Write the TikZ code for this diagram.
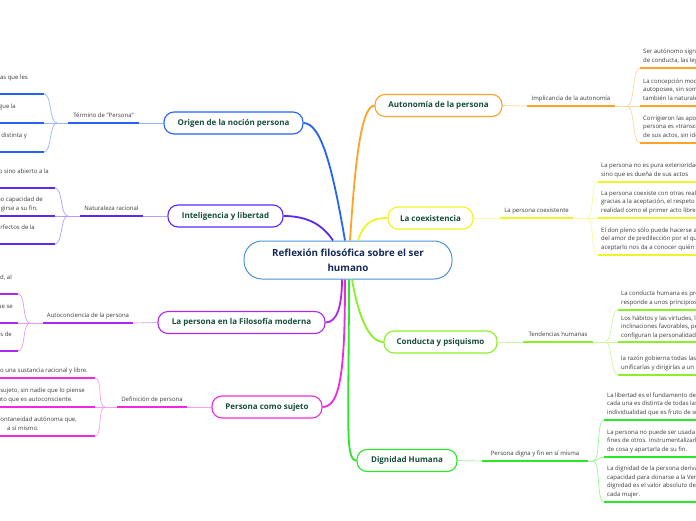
\documentclass[tikz,border=0pt]{standalone}
\usepackage{fontspec}
\setmainfont{Open Sans}

\definecolor{rootcol}{RGB}{74,146,222}
\definecolor{roottext}{RGB}{22,42,88}
\definecolor{topictext}{RGB}{22,78,58}
\definecolor{leaftext}{RGB}{60,60,60}
\definecolor{cOrigen}{RGB}{38,98,245}
\definecolor{cIntel}{RGB}{92,40,245}
\definecolor{cModerna}{RGB}{172,40,240}
\definecolor{cSujeto}{RGB}{242,40,222}
\definecolor{cAuto}{RGB}{255,162,40}
\definecolor{cCoex}{RGB}{242,242,40}
\definecolor{cConducta}{RGB}{140,240,40}
\definecolor{cDignidad}{RGB}{40,232,40}

\tikzstyle{root} = [draw=rootcol, line width=1pt, fill=white, rounded corners=18pt, minimum width=208pt, minimum height=38pt, align=center, text=roottext, font=\fontsize{9.8}{15}\selectfont\bfseries]
\tikzstyle{topic} = [line width=1.1pt, fill=white, rounded corners=10pt, minimum height=22pt, inner sep=0pt, text=topictext, font=\fontsize{8}{9}\selectfont\bfseries]
\tikzstyle{sub} = [anchor=south, inner xsep=0pt, inner ysep=5.5pt, text depth=0pt, text=leaftext, font=\fontsize{6}{8.4}\selectfont]
\tikzstyle{leaf} = [anchor=base west, inner sep=0pt, align=left, text=leaftext, font=\fontsize{6}{8.4}\selectfont]
\tikzstyle{cut} = [anchor=base east, inner sep=0pt, text=leaftext, font=\fontsize{6}{8.4}\selectfont]
\tikzstyle{trunk} = [line width=1.8pt]
\tikzstyle{twig} = [line width=0.7pt]
\tikzstyle{ul} = [line width=1.6pt]

\begin{document}
\begin{tikzpicture}[x=1pt, y=-1pt]
\useasboundingbox (0,0) rectangle (696,520);
\clip (0,0) rectangle (696,520);
\fill[white] (0,0) rectangle (696,520);

%raiz
\node[root] (root) at (348,260) {Reflexión filosófica sobre el ser\\humano};

%begin temas
\node[topic, draw=cOrigen, minimum width=139pt] (origen) at (233.5,123) {Origen de la noción persona};
\node[topic, draw=cIntel, minimum width=115pt] (intel) at (225.5,216) {Inteligencia y libertad};
\node[topic, draw=cModerna, minimum width=167pt] (moderna) at (241.5,322.5) {La persona en la Filosofía moderna};
\node[topic, draw=cSujeto, minimum width=110pt] (sujeto) at (267,407) {Persona como sujeto};
\node[topic, draw=cAuto, minimum width=127pt] (autonomia) at (438.5,105.5) {Autonomía de la persona};
\node[topic, draw=cCoex, minimum width=85pt] (coex) at (430.5,218) {La coexistencia};
\node[topic, draw=cConducta, minimum width=113pt] (conducta) at (440.5,342) {Conducta y psiquismo};
\node[topic, draw=cDignidad, minimum width=100pt] (dignidad) at (407,460.5) {Dignidad Humana};
%end temas

%begin ramas
\draw[trunk, cOrigen] ([xshift=-3pt]root.north) .. controls +(-12,-70) and +(18,0) .. (origen.east);
\draw[trunk, cIntel] ([xshift=-15pt]root.north) .. controls +(-10,-15) and +(25,0) .. (intel.east);
\draw[trunk, cAuto] ([xshift=2pt]root.north) .. controls +(4,-60) and +(-15,0) .. (autonomia.west);
\draw[trunk, cCoex] ([xshift=10pt]root.north) .. controls +(5,-15) and +(-18,0) .. (coex.west);
\draw[trunk, cModerna] ([xshift=-6pt]root.south) .. controls +(0,25) and +(12,0) .. (moderna.east);
\draw[trunk, cSujeto] ([xshift=-3pt]root.south) .. controls +(0,90) and +(18,0) .. (sujeto.east);
\draw[trunk, cDignidad] ([xshift=1pt]root.south) .. controls +(0,140) and +(-12,0) .. (dignidad.west);
\draw[trunk, cConducta] ([xshift=4pt]root.south) .. controls +(6,35) and +(-15,0) .. (conducta.west);
%end ramas

%begin origen
\node[sub, minimum width=71pt] (termino) at (103.5,123) {Término de "Persona"};
\coordinate (ob) at (57,123);
\coordinate (o1) at (44,94);
\coordinate (o2) at (44,123);
\coordinate (o3) at (44,152);
\draw[twig, cOrigen!45] (origen.west) -- (termino.south east);
\draw[ul, cOrigen] (termino.south east) -- (termino.south west);
\draw[twig, cOrigen!45] (termino.south west) -- (ob);
\draw[twig, cOrigen!45] (ob) .. controls +(-8,0) and +(8,0) .. (o1);
\draw[twig, cOrigen!45] (ob) -- (o2);
\draw[twig, cOrigen!45] (ob) .. controls +(-8,0) and +(8,0) .. (o3);
\draw[ul, cOrigen] (o1) -- +(-50,0);
\draw[ul, cOrigen] (o2) -- +(-50,0);
\draw[ul, cOrigen] (o3) -- +(-50,0);
\node[cut] (o1a) at (28,79.6) {as que les};
\node[cut] (o2a) at (16,108.6) {gue la};
\node[cut] (o3a) at (27,137.6) {distinta y};
%end origen

%begin inteligencia
\node[sub, minimum width=63pt] (natural) at (111.5,216) {Naturaleza racional};
\coordinate (nb) at (68,216);
\coordinate (n1) at (55,188);
\coordinate (n2) at (55,216);
\coordinate (n3) at (55,244);
\draw[twig, cIntel!45] (intel.west) -- (natural.south east);
\draw[ul, cIntel] (natural.south east) -- (natural.south west);
\draw[twig, cIntel!45] (natural.south west) -- (nb);
\draw[twig, cIntel!45] (nb) .. controls +(-8,0) and +(8,0) .. (n1);
\draw[twig, cIntel!45] (nb) -- (n2);
\draw[twig, cIntel!45] (nb) .. controls +(-8,0) and +(8,0) .. (n3);
\draw[ul, cIntel] (n1) -- +(-60,0);
\draw[ul, cIntel] (n2) -- +(-60,0);
\draw[ul, cIntel] (n3) -- +(-60,0);
\node[cut] (n1a) at (49,173.6) {o sino abierto a la};
\node[cut] (n2a) at (43,201.6) {no capacidad de};
\node[cut] (n2b) at (38,210) {girse a su fin.};
\node[cut] (n3a) at (35,229.6) {rfectos de la};
%end inteligencia

%begin moderna
\node[sub, minimum width=90pt] (autocon) at (88,323) {Autoconciencia de la persona};
\coordinate (mb) at (30,323);
\coordinate (m1) at (18,294);
\coordinate (m2) at (18,323);
\coordinate (m3) at (18,351);
\draw[twig, cModerna!45] (moderna.west) -- (autocon.south east);
\draw[ul, cModerna] (autocon.south east) -- (autocon.south west);
\draw[twig, cModerna!45] (autocon.south west) -- (mb);
\draw[twig, cModerna!45] (mb) .. controls +(-8,0) and +(8,0) .. (m1);
\draw[twig, cModerna!45] (mb) -- (m2);
\draw[twig, cModerna!45] (mb) .. controls +(-8,0) and +(8,0) .. (m3);
\draw[ul, cModerna] (m1) -- +(-30,0);
\draw[ul, cModerna] (m2) -- +(-30,0);
\draw[ul, cModerna] (m3) -- +(-30,0);
\node[cut] (m1a) at (12,279.6) {d, al};
\node[cut] (m2a) at (13,308.6) {ue se};
\node[cut] (m3a) at (12,336.6) {s de};
%end moderna

%begin sujeto
\node[sub, minimum width=70pt] (defin) at (152,407) {Definición de persona};
\coordinate (sb) at (105,407);
\coordinate (s1) at (95,378);
\coordinate (s2) at (95,407);
\coordinate (s3) at (95,436);
\draw[twig, cSujeto!45] (sujeto.west) -- (defin.south east);
\draw[ul, cSujeto] (defin.south east) -- (defin.south west);
\draw[twig, cSujeto!45] (defin.south west) -- (sb);
\draw[twig, cSujeto!45] (sb) .. controls +(-8,0) and +(8,0) .. (s1);
\draw[twig, cSujeto!45] (sb) -- (s2);
\draw[twig, cSujeto!45] (sb) .. controls +(-8,0) and +(8,0) .. (s3);
\draw[ul, cSujeto] (s1) -- +(-100,0);
\draw[ul, cSujeto] (s2) -- +(-100,0);
\draw[ul, cSujeto] (s3) -- +(-100,0);
\node[cut] (s1a) at (88,372) {o una sustancia racional y libre.};
\node[cut] (s2a) at (85,392.6) {sujeto, sin nadie que lo piense};
\node[cut] (s2b) at (73,401) {ato que es autoconsciente.};
\node[cut] (s3a) at (77,421.6) {pontaneidad autónoma que,};
\node[cut] (s3b) at (39,430) {a sí mismo.};
%end sujeto

%begin autonomia
\node[sub, minimum width=88pt] (implic) at (571,106) {Implicancia de la autonomía};
\coordinate (ab) at (627,106);
\coordinate (a1) at (640,68);
\coordinate (a2) at (640,106);
\coordinate (a3) at (640,143);
\draw[twig, cAuto!45] (autonomia.east) -- (implic.south west);
\draw[ul, cAuto] (implic.south west) -- (implic.south east);
\draw[twig, cAuto!45] (implic.south east) -- (ab);
\draw[twig, cAuto!45] (ab) .. controls +(8,0) and +(-8,0) .. (a1);
\draw[twig, cAuto!45] (ab) -- (a2);
\draw[twig, cAuto!45] (ab) .. controls +(8,0) and +(-8,0) .. (a3);
\draw[ul, cAuto] (a1) -- +(60,0);
\draw[ul, cAuto] (a2) -- +(60,0);
\draw[ul, cAuto] (a3) -- +(60,0);
\node[leaf] (a1t) at (643,62) {Ser autónomo significa\\de conducta, las leyes};
\node[leaf] (a2t) at (643,100) {La concepción moderna\\autoposee, sin someterse\\también la naturaleza};
\node[leaf] (a3t) at (643,137) {Corrigieron las aportaciones\\persona es «transcendente\\de sus actos, sin identificarse};
%end autonomia

%begin coexistencia
\node[sub, minimum width=73pt] (coexlab) at (536.5,218) {La persona coexistente};
\coordinate (cb) at (587,218);
\coordinate (c1) at (598,182);
\coordinate (c2) at (598,218);
\coordinate (c3) at (598,255);
\draw[twig, cCoex!45] (coex.east) -- (coexlab.south west);
\draw[ul, cCoex] (coexlab.south west) -- (coexlab.south east);
\draw[twig, cCoex!45] (coexlab.south east) -- (cb);
\draw[twig, cCoex!45] (cb) .. controls +(8,0) and +(-8,0) .. (c1);
\draw[twig, cCoex!45] (cb) -- (c2);
\draw[twig, cCoex!45] (cb) .. controls +(8,0) and +(-8,0) .. (c3);
\draw[ul, cCoex] (c1) -- +(100,0);
\draw[ul, cCoex] (c2) -- +(100,0);
\draw[ul, cCoex] (c3) -- +(100,0);
\node[leaf] (c1t) at (601,176) {La persona no es pura exterioridad\\sino que es dueña de sus actos};
\node[leaf] (c2t) at (601,212) {La persona coexiste con otras realidades\\gracias a la aceptación, el respeto\\realidad como el primer acto libre};
\node[leaf] (c3t) at (601,249) {El don pleno sólo puede hacerse a\\del amor de predilección por el que\\aceptarlo nos da a conocer quién somos};
%end coexistencia

%begin conducta
\node[sub, minimum width=70pt] (tend) at (558,342) {Tendencias humanas};
\coordinate (kb) at (605,342);
\coordinate (k1) at (618,310);
\coordinate (k2) at (618,342);
\coordinate (k3) at (618,375);
\draw[twig, cConducta!45] (conducta.east) -- (tend.south west);
\draw[ul, cConducta] (tend.south west) -- (tend.south east);
\draw[twig, cConducta!45] (tend.south east) -- (kb);
\draw[twig, cConducta!45] (kb) .. controls +(8,0) and +(-8,0) .. (k1);
\draw[twig, cConducta!45] (kb) -- (k2);
\draw[twig, cConducta!45] (kb) .. controls +(8,0) and +(-8,0) .. (k3);
\draw[ul, cConducta] (k1) -- +(80,0);
\draw[ul, cConducta] (k2) -- +(80,0);
\draw[ul, cConducta] (k3) -- +(80,0);
\node[leaf] (k1t) at (621,304) {La conducta humana es producto\\responde a unos principios};
\node[leaf] (k2t) at (621,337) {Los hábitos y las virtudes, las\\inclinaciones favorables, pero\\configuran la personalidad};
\node[leaf] (k3t) at (621,369) {la razón gobierna todas las\\unificarlas y dirigirlas a un};
%end conducta

%begin dignidad
\node[sub, minimum width=106pt] (digna) at (535,461) {Persona digna y fin en sí misma};
\coordinate (db) at (593,461);
\coordinate (d1) at (604,420);
\coordinate (d2) at (604,457);
\coordinate (d3) at (604,502);
\draw[twig, cDignidad!45] (dignidad.east) -- (digna.south west);
\draw[ul, cDignidad] (digna.south west) -- (digna.south east);
\draw[twig, cDignidad!45] (digna.south east) -- (db);
\draw[twig, cDignidad!45] (db) .. controls +(8,0) and +(-8,0) .. (d1);
\draw[twig, cDignidad!45] (db) .. controls +(6,0) and +(-6,0) .. (d2);
\draw[twig, cDignidad!45] (db) .. controls +(8,0) and +(-8,0) .. (d3);
\draw[ul, cDignidad] (d1) -- +(100,0);
\draw[ul, cDignidad] (d2) -- +(100,0);
\draw[ul, cDignidad] (d3) -- +(100,0);
\node[leaf] (d1t) at (607,414) {La libertad es el fundamento de\\cada una es distinta de todas las\\individualidad que es fruto de su};
\node[leaf] (d2t) at (607,451) {La persona no puede ser usada\\fines de otros. Instrumentalizarla\\de cosa y apartarla de su fin.};
\node[leaf] (d3t) at (607,496) {La dignidad de la persona deriva\\capacidad para donarse a la Verdad\\dignidad es el valor absoluto de\\cada mujer.};
%end dignidad
\end{tikzpicture}
\end{document}
